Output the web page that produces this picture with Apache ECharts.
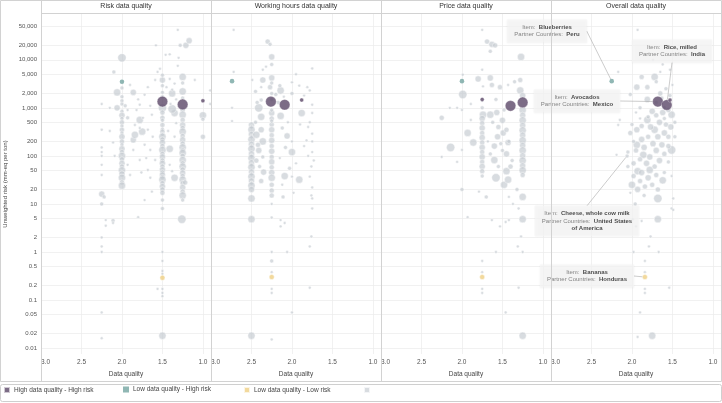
<!DOCTYPE html>
<html><head><meta charset="utf-8">
<script src="https://cdn.jsdelivr.net/npm/echarts@6/dist/echarts.min.js"></script>
<style>html,body{margin:0;padding:0;background:#fff}#c{width:722px;height:403px}</style>
</head><body><div id="c"></div>
<script>
const panelTitles = ['Risk data quality', 'Working hours data quality', 'Price data quality', 'Overall data quality'];
const xTicks = [1.0, 1.5, 2.0, 2.5, 3.0];
const yTicks = [0.01, 0.02, 0.05, 0.1, 0.2, 0.5, 1, 2, 5, 10, 20, 50, 100, 200, 500, 1000, 2000, 5000, 10000, 20000, 50000];
const legendNames = ['High data quality - High risk', 'Low data quality - High risk', 'Low data quality - Low risk', 'Other'];

// [data quality, unweighted risk, bubble size]
const riskHighHigh = [[1.5, 1350, 9], [1.25, 1180, 9], [1.0, 1400, 3]];
const hoursHighHigh = [[2.26, 1350, 9], [2.09, 1160, 9], [1.88, 1450, 3]];
const priceHighHigh = [[1.4, 1100, 9], [1.25, 1300, 9], [1.75, 1500, 3]];
const overallHighHigh = [[1.68, 1350, 9], [1.57, 1150, 9], [1.53, 1450, 3]];

const riskLowHigh = [[2.0, 3500, 3.5]];
const hoursLowHigh = [[2.74, 3600, 3.5]];
const priceLowHigh = [[2.0, 3600, 3.5]];
const overallLowHigh = [[2.25, 3600, 3.5]];

const riskLowLow = [[1.5, 0.29, 4]];
const hoursLowLow = [[2.25, 0.3, 4]];
const priceLowLow = [[1.75, 0.3, 4]];
const overallLowLow = [[1.84, 0.3, 4]];

const riskOther = [
[2.25,1200,2],[2.25,350,2],[2.25,150,2],[2.25,120,2],[2.25,100,2],[2.25,65,2],[2.25,40,2],[2.25,16,5],[2.22,14,3],[2.25,10,3],[2.2,4.6,2],[2.2,3.5,2],[2.25,2,2],[2.25,1.3,2],[2.25,1,2],[2.25,0.055,2],[2.25,0.016,2],
[2.11,4.5,3],[2.11,4,2],[1.8,5.3,2],[2.15,330,2],[2.11,190,2],[2.09,100,2],[2.15,1000,2],[2.1,5600,3],
[2.0,11000,7],[2.0,2600,3],[2.06,2100,6],[2.0,1700,3],[2.0,1400,3],[2.0,1200,3],[2.06,1000,5],[2.0,850,3],[2.0,700,5],[2.0,600,3],[2.0,500,4],[2.0,420,3],[2.0,350,4],[2.0,300,3],[2.0,250,5],[2.0,200,4],[2.0,170,3],[2.0,140,5],[2.0,120,4],[2.0,100,6],[2.0,85,4],[2.0,70,5],[2.0,60,4],[2.0,50,6],[2.0,42,5],[2.0,35,6],[2.0,28,4],[2.0,24,6],[1.96,1100,3],[1.93,900,2],
[1.86,2100,5],[1.78,560,6],[1.75,320,6],[1.86,215,5],[1.84,275,6],[1.93,620,3],[1.84,440,2],[1.78,1160,2],[1.72,1870,2],[1.68,2700,2],[1.59,3800,2],[1.56,5600,2],[1.63,720,2],[1.68,350,2],[1.72,170,2],[1.65,133,2],[1.59,82,2],[1.68,51,2],[1.78,82,2],[1.86,133,2],[1.93,65,2],[1.65,35,2],[1.63,18,2],[1.72,12,2],[1.78,380,2],[1.74,620,2],[1.8,1500,2],[1.9,3000,2],[1.65,1100,2],[1.62,250,2],[1.7,90,2],[1.76,45,2],[1.9,40,2],[1.82,900,2],[1.58,20000,2],[1.46,12700,2],[1.41,13000,2],[1.53,6500,2],
[1.5,3800,5],[1.5,2900,3],[1.5,2100,3],[1.5,1700,3],[1.5,4800,3],[1.5,1000,7],[1.5,800,4],[1.5,620,4],[1.5,550,3],[1.5,440,4],[1.5,360,3],[1.5,320,4],[1.5,280,3],[1.5,250,6],[1.5,220,4],[1.5,190,5],[1.5,160,4],[1.5,133,6],[1.5,110,4],[1.5,95,5],[1.5,80,4],[1.5,70,5],[1.5,60,4],[1.5,51,5],[1.5,45,4],[1.5,40,5],[1.5,36,4],[1.5,32,6],[1.5,27,4],[1.5,23,5],[1.5,20,4],[1.5,17,4],[1.5,12,3],[1.5,8,3],[1.5,1.0,2],[1.5,0.65,2],[1.5,0.4,2],[1.5,0.35,2],[1.5,0.17,2],[1.5,0.14,2],[1.5,0.12,2],[1.56,0.17,2],[1.5,0.018,6],
[1.25,4400,6],[1.25,3300,3],[1.25,2200,6],[1.25,1600,3],[1.25,900,4],[1.25,720,6],[1.25,560,4],[1.25,440,5],[1.25,380,4],[1.25,320,6],[1.25,260,4],[1.25,215,5],[1.25,180,4],[1.25,150,6],[1.25,130,4],[1.25,115,6],[1.25,100,4],[1.25,82,6],[1.25,70,4],[1.25,60,6],[1.25,52,4],[1.25,44,5],[1.25,38,4],[1.25,32,6],[1.25,27,4],[1.25,22,5],[1.25,18,4],[1.25,15,6],[1.25,12,3],[1.26,4.8,7],
[1.31,42000,2],[1.28,20000,3],[1.21,20000,5],[1.17,25000,5],[1.38,2000,6],[1.35,780,6],[1.38,950,7],[1.41,140,6],[1.35,35,6],[1.22,28,4],[1.41,4000,2],[1.35,3200,2],[1.31,7500,2],[1.38,2400,2],[1.1,3800,2],[1.41,65,2],[1.38,48,2],[1.35,250,2],[1.33,480,2],[1.4,1200,2],[1.45,2700,2],[1.3,11000,2],[1.33,1500,2],[1.43,330,2],
[1.0,700,6],[1.0,580,3],[1.0,250,4],[0.91,2300,2],[0.91,1200,2]
];

const hoursOther = [
[2.72,42000,2],[2.72,5600,2],[2.74,1000,2],[2.74,530,2],
[2.5,440,5],[2.5,400,3],[2.5,350,6],[2.5,280,5],[2.5,250,3],[2.5,220,6],[2.5,175,5],[2.5,160,3],[2.5,140,6],[2.5,110,5],[2.5,100,3],[2.5,90,6],[2.5,72,5],[2.5,65,3],[2.5,58,6],[2.5,46,5],[2.5,42,3],[2.5,37,6],[2.5,30,5],[2.5,27,3],[2.5,24,6],[2.5,20,5],[2.5,13,6],[2.5,4.8,6],[2.5,0.018,6],
[2.41,1000,7],[2.38,650,6],[2.44,275,6],[2.36,200,6],[2.35,46,5],[2.41,130,5],[2.44,80,4],[2.38,350,5],[2.43,1300,3],[2.45,2200,3],[2.4,60,3],[2.42,170,4],[2.36,95,3],[2.38,30,4],[2.45,500,3],[2.36,3800,5],[2.38,2700,2],[2.38,1450,3],[2.49,3800,2],[2.36,6200,2],[2.32,7200,2],
[2.3,24000,4],[2.27,21000,3],[2.25,11500,5],[2.25,8000,3],[2.27,2700,4],[2.25,4200,5],[2.2,1900,3],[2.25,2000,3],[2.25,780,5],[2.25,600,4],[2.25,450,4],[2.25,350,5],[2.25,270,4],[2.25,210,5],[2.25,160,4],[2.25,125,5],[2.25,95,4],[2.25,75,5],[2.25,58,4],[2.25,45,5],[2.25,35,6],[2.25,25,4],[2.25,19,4],[2.25,15,4],[2.25,10,2],[2.25,5.2,2],[2.25,1,2],[2.25,0.65,3],[2.25,0.38,2],[2.25,0.17,2],[2.25,0.14,2],[2.25,0.015,2],[2.25,1500,3],[2.25,900,3],[2.25,530,3],[2.25,3300,3],
[2.14,4.6,2],[2.09,4,2],[2.14,3.4,2],[2.06,1,2],[2.0,0.055,2],[2.11,14,3],[2.09,38,6],[2.14,2300,6],[2.15,2900,3],[2.14,680,6],[2.06,260,5],[2.0,120,6],[1.91,32,6],[2.0,37,2],[2.17,1300,3],[2.1,1700,2],[2.05,500,2],[2.12,380,3],[2.0,200,2],[2.08,150,3],[2.15,90,2],[1.95,70,2],[2.03,55,3],[2.12,25,2],[1.98,17,2],[2.0,3400,2],
[1.88,780,6],[1.75,6600,2],[1.91,2900,2],[1.81,2700,2],[1.78,2300,2],[1.75,1160,2],[1.75,780,2],[1.78,500,2],[1.75,290,2],[1.75,200,2],[1.75,120,2],[1.73,80,2],[1.78,37,2],[1.76,15,2],[1.75,13,2],[1.75,8,2],[1.76,2.1,2],[1.78,1.3,2],[1.78,0.18,2],[1.8,400,2],[1.85,160,2],[1.8,100,2],[1.76,60,2],[1.85,1800,2],[1.95,5000,2],[2.0,2000,3],[1.9,450,2],[1.82,210,2],[1.75,22,2]
];

const priceOther = [
[1.75,42000,2],[1.69,24000,4],[1.63,21000,5],[1.59,20000,4],[1.65,15000,3],[1.27,11500,6],[1.75,6200,2],[1.99,4900,2],[1.8,4000,5],[1.65,4200,5],[1.63,3000,4],[1.74,2800,2],[1.99,1900,7],[2.15,1000,2],[2.25,620,4],[2.0,900,2],[2.06,1000,2],[1.53,2700,4],[1.43,3000,2],[1.28,2300,6],[1.35,3500,3],[1.28,3800,4],[1.74,720,6],[1.65,720,6],[1.57,800,5],[1.89,560,2],
[1.75,1400,2],[1.75,1000,3],[1.75,600,5],[1.75,480,4],[1.75,380,5],[1.75,300,4],[1.75,240,5],[1.75,190,4],[1.75,150,5],[1.75,120,4],[1.75,95,5],[1.75,75,4],[1.75,60,5],[1.75,48,4],[1.75,38,3],[1.75,0.65,2],[1.75,0.38,2],[1.75,0.17,2],[1.75,0.14,2],
[1.58,35,7],[1.48,25,6],[1.43,32,6],[1.45,48,6],[1.6,82,6],[1.56,250,5],[1.49,300,5],[1.43,190,5],[1.93,300,6],[1.86,190,6],[2.14,150,7],[2.25,95,2],[2.06,75,2],[2.0,133,2],[2.0,20,3],[1.79,18,2],[1.7,14,3],[1.6,160,5],[1.55,400,4],[1.5,550,5],[1.45,350,4],[1.62,500,3],[1.52,180,3],[1.45,110,5],[1.4,60,4],[1.55,60,3],[1.65,110,3],[1.5,130,3],[1.68,200,2],[1.58,1500,3],[1.48,900,3],[1.42,200,3],[1.38,80,3],[1.89,1200,2],
[1.25,1800,5],[1.25,900,6],[1.25,700,5],[1.25,550,6],[1.25,430,5],[1.25,340,6],[1.25,270,5],[1.25,210,6],[1.25,165,5],[1.25,130,6],[1.25,100,5],[1.25,80,6],[1.25,62,5],[1.25,50,6],[1.25,40,4],[1.25,14,6],[1.25,4.8,6],[1.25,0.018,6],[1.25,1,2],
[1.42,14,2],[1.37,10,2],[1.93,5.3,2],[1.63,4.6,2],[1.53,3.4,2],[1.46,4.2,2],[1.42,4.6,2],[1.27,2.1,2],[1.31,1.3,2],[1.58,1,2],[1.3,0.18,2],[1.46,0.055,2],[1.32,20,3],[1.3,8,2]
];

const overallOther = [
[2.06,100,3],
[1.93,42000,2],[2.17,5600,2],[1.88,4400,4],[1.94,2700,5],[1.81,2700,4],[1.72,4400,6],[1.65,5600,2],[1.53,6200,2],[2.02,1900,3],[1.81,1500,5],[1.74,10000,2],[1.53,12700,2],[1.62,8000,2],[1.65,2000,4],[1.58,2500,3],[1.5,3000,2],[1.53,1800,3],[1.9,1000,3],[1.7,3500,3],
[1.51,720,6],[1.51,133,7],[1.62,31,6],[1.68,13,7],[2.0,25,6],[1.86,105,6],[1.78,51,6],[1.93,48,6],[1.94,170,6],[1.81,560,6],[1.72,350,6],[1.94,350,5],[2.02,300,4],[2.17,440,2],[2.15,560,2],[2.19,105,2],[1.51,38,2],[1.51,8,2],[2.02,17,2],[1.93,20,5],[1.84,23,4],[1.96,10,3],[1.68,4.8,6],[1.99,4.8,2],[1.88,4.4,2],[1.95,3.4,2],[1.49,13,2],[1.49,7.5,2],[1.77,2.1,2],[1.79,1.3,2],[1.67,1,2],[1.98,1,2],[1.84,0.65,2],[1.84,0.38,2],[1.84,0.17,2],[1.84,0.14,2],[1.54,0.18,2],[1.9,0.055,2],[1.75,0.018,6],[1.93,0.017,2],
[1.75,850,5],[1.7,700,4],[1.62,800,5],[1.6,1000,3],[1.55,900,4],[1.8,650,3],[1.66,500,5],[1.58,450,4],[1.52,400,5],[1.88,420,4],[1.77,400,5],[1.6,300,5],[1.55,250,4],[1.68,250,5],[1.8,250,4],[1.88,220,5],[1.98,200,3],[1.74,180,5],[1.63,170,5],[1.55,160,4],[1.85,150,5],[1.95,130,4],[1.7,130,5],[1.6,110,4],[1.78,95,5],[1.9,85,4],[1.66,80,5],[1.55,75,3],[1.98,70,4],[1.82,70,5],[1.72,60,4],[1.88,45,5],[1.7,40,4],[1.98,38,4],[1.8,35,5],[1.6,45,3],[1.9,30,4],[1.75,25,4],[1.68,20,4],[1.85,15,3],[2.05,60,3],[2.05,120,3],[1.6,600,3],[1.47,500,3],[1.47,250,3],[1.9,600,2],[2.0,450,3],[1.95,800,2],[1.7,1300,3],[1.63,1600,3]
];

const annotItems = ['Blueberries', 'Rice, milled', 'Avocados', 'Cheese, whole cow milk', 'Bananas'];
const annotCountries = ['Peru', 'India', 'Mexico', 'United States of America', 'Honduras'];
const annotPoints = [overallLowHigh[0], overallHighHigh[1], overallHighHigh[0], overallOther[0], overallLowLow[0]];

// ---------------- rendering ----------------
const FONT = '"Liberation Sans", Arial, Helvetica, sans-serif';
const L0 = 41, PW = 170, TOP = 14, H = 340;
const annotBoxes = [[547, 31], [672, 51], [577, 101], [587, 221], [587, 276]];
const sizeOf = d => d[2] * 1.1 + 0.7;

const others = [riskOther, hoursOther, priceOther, overallOther];
const highHigh = [riskHighHigh, hoursHighHigh, priceHighHigh, overallHighHigh];
const lowHigh = [riskLowHigh, hoursLowHigh, priceLowHigh, overallLowHigh];
const lowLow = [riskLowLow, hoursLowLow, priceLowLow, overallLowLow];
const colors = ['#5b4768', '#74a5a1', '#efcf85', 'rgba(196,201,207,0.82)'];

const fmtY = v => v >= 1000 ? Math.round(v).toLocaleString('en-US') : String(+v.toPrecision(3));
const grids = [], xAxes = [], yAxes = [], series = [];
for (let i = 0; i < 4; i++) {
  grids.push({ left: L0 + PW * i, top: TOP, width: PW, height: H, containLabel: false });
  xAxes.push({
    type: 'value', gridIndex: i, min: 0.9, max: 3.0, inverse: true,
    name: 'Data quality', nameLocation: 'middle', nameGap: 15,
    nameTextStyle: { fontSize: 6.5, color: '#444', fontFamily: FONT },
    axisLine: { show: false }, axisTick: { show: false, customValues: xTicks },
    axisLabel: { customValues: xTicks, formatter: v => (+v).toFixed(1), fontSize: 6.5, color: '#555', margin: 5, fontFamily: FONT, alignMaxLabel: 'left', hideOverlap: false },
    splitLine: { show: true, lineStyle: { color: '#ebebeb', width: 0.7 } }
  });
  yAxes.push({
    type: 'log', logBase: 10, gridIndex: i, min: 0.0075, max: 90000,
    name: i === 0 ? 'Unweighted risk (mm-eq per ton)' : '', nameLocation: 'middle', nameGap: 33, nameRotate: 90,
    nameTextStyle: { fontSize: 6, color: '#444', fontFamily: FONT },
    axisLine: { show: false }, axisTick: { show: false, customValues: yTicks },
    axisLabel: { show: i === 0, customValues: yTicks, formatter: fmtY, fontSize: 6, color: '#555', margin: 4, fontFamily: FONT, hideOverlap: false },
    splitLine: { show: true, lineStyle: { color: '#ebebeb', width: 0.7 } }
  });
  const base = { type: 'scatter', xAxisIndex: i, yAxisIndex: i, symbolSize: sizeOf, emphasis: { disabled: true }, silent: true };
  series.push(Object.assign({}, base, { name: legendNames[3], data: others[i], z: 2,
    itemStyle: { color: colors[3], borderColor: 'rgba(255,255,255,0.9)', borderWidth: 0.6 } }));
  series.push(Object.assign({}, base, { name: legendNames[0], data: highHigh[i], z: 3,
    itemStyle: { color: colors[0], borderColor: 'rgba(255,255,255,0.8)', borderWidth: 0.5 } }));
  series.push(Object.assign({}, base, { name: legendNames[1], data: lowHigh[i], z: 3,
    itemStyle: { color: colors[1] } }));
  series.push(Object.assign({}, base, { name: legendNames[2], data: lowLow[i], z: 3,
    itemStyle: { color: colors[2], borderColor: 'rgba(255,255,255,0.9)', borderWidth: 0.6 } }));
}

series.push({
  type: 'scatter', name: 'annotations', xAxisIndex: 3, yAxisIndex: 3, z: 10, silent: true,
  data: annotPoints, symbolSize: sizeOf, itemStyle: { color: 'rgba(0,0,0,0)' },
  label: {
    show: true,
    formatter: p => '{k|Item:} {v|' + annotItems[p.dataIndex] + '}\n{k|Partner Countries:} {v|' +
      annotCountries[p.dataIndex].replace(' of ', '\nof ') + '}',
    backgroundColor: 'rgba(246,246,246,0.93)', padding: [4, 7], align: 'center', lineHeight: 7.5,
    shadowColor: 'rgba(0,0,0,0.08)', shadowBlur: 2,
    rich: {
      k: { fontSize: 6, color: '#666', fontFamily: FONT, lineHeight: 7.5 },
      v: { fontSize: 6, color: '#222', fontWeight: 'bold', fontFamily: FONT, lineHeight: 7.5 }
    }
  },
  labelLine: { show: true, lineStyle: { color: '#a9a9a9', width: 0.6 } },
  labelLayout: p => ({ x: annotBoxes[p.dataIndex][0], y: annotBoxes[p.dataIndex][1], align: 'center', verticalAlign: 'middle' })
});

const legends = legendNames.map((n, i) => ({
  data: [n], left: 3 + 120 * i, top: 386, itemWidth: 6, itemHeight: 6, icon: 'rect', padding: 0, itemGap: 0,
  selectedMode: false, formatter: name => name === 'Other' ? '' : name,
  textStyle: { fontSize: 6.5, color: '#444', fontFamily: FONT, padding: [0, 0, 0, -1] }
}));

const graphic = [];
graphic.push({ type: 'rect', shape: { x: 0.5, y: 0.5, width: 721, height: 381 }, style: { fill: 'none', stroke: '#d2d2d2', lineWidth: 1 }, z: 20, silent: true });
graphic.push({ type: 'line', shape: { x1: L0, y1: 13.5, x2: 722, y2: 13.5 }, style: { stroke: '#d2d2d2', lineWidth: 1 }, z: 20, silent: true });
for (let i = 0; i < 4; i++) {
  graphic.push({ type: 'line', shape: { x1: L0 + PW * i + 0.5, y1: 0, x2: L0 + PW * i + 0.5, y2: 381 }, style: { stroke: '#d2d2d2', lineWidth: 1 }, z: 20, silent: true });
  graphic.push({ type: 'text', x: L0 + PW * i + PW / 2, y: 6, z: 20, silent: true,
    style: { text: panelTitles[i], align: 'center', verticalAlign: 'middle', fontSize: 7, fill: '#333', fontFamily: FONT } });
}
graphic.push({ type: 'rect', shape: { x: 0.5, y: 384.5, width: 721, height: 17, r: 2 }, style: { fill: 'none', stroke: '#cfcfcf', lineWidth: 1 }, z: 20, silent: true });

const chart = echarts.init(document.getElementById('c'), null, { renderer: 'canvas' });
chart.setOption({
  animation: false, backgroundColor: '#fff',
  grid: grids, xAxis: xAxes, yAxis: yAxes, series: series, legend: legends, graphic: graphic
});
</script></body></html>
